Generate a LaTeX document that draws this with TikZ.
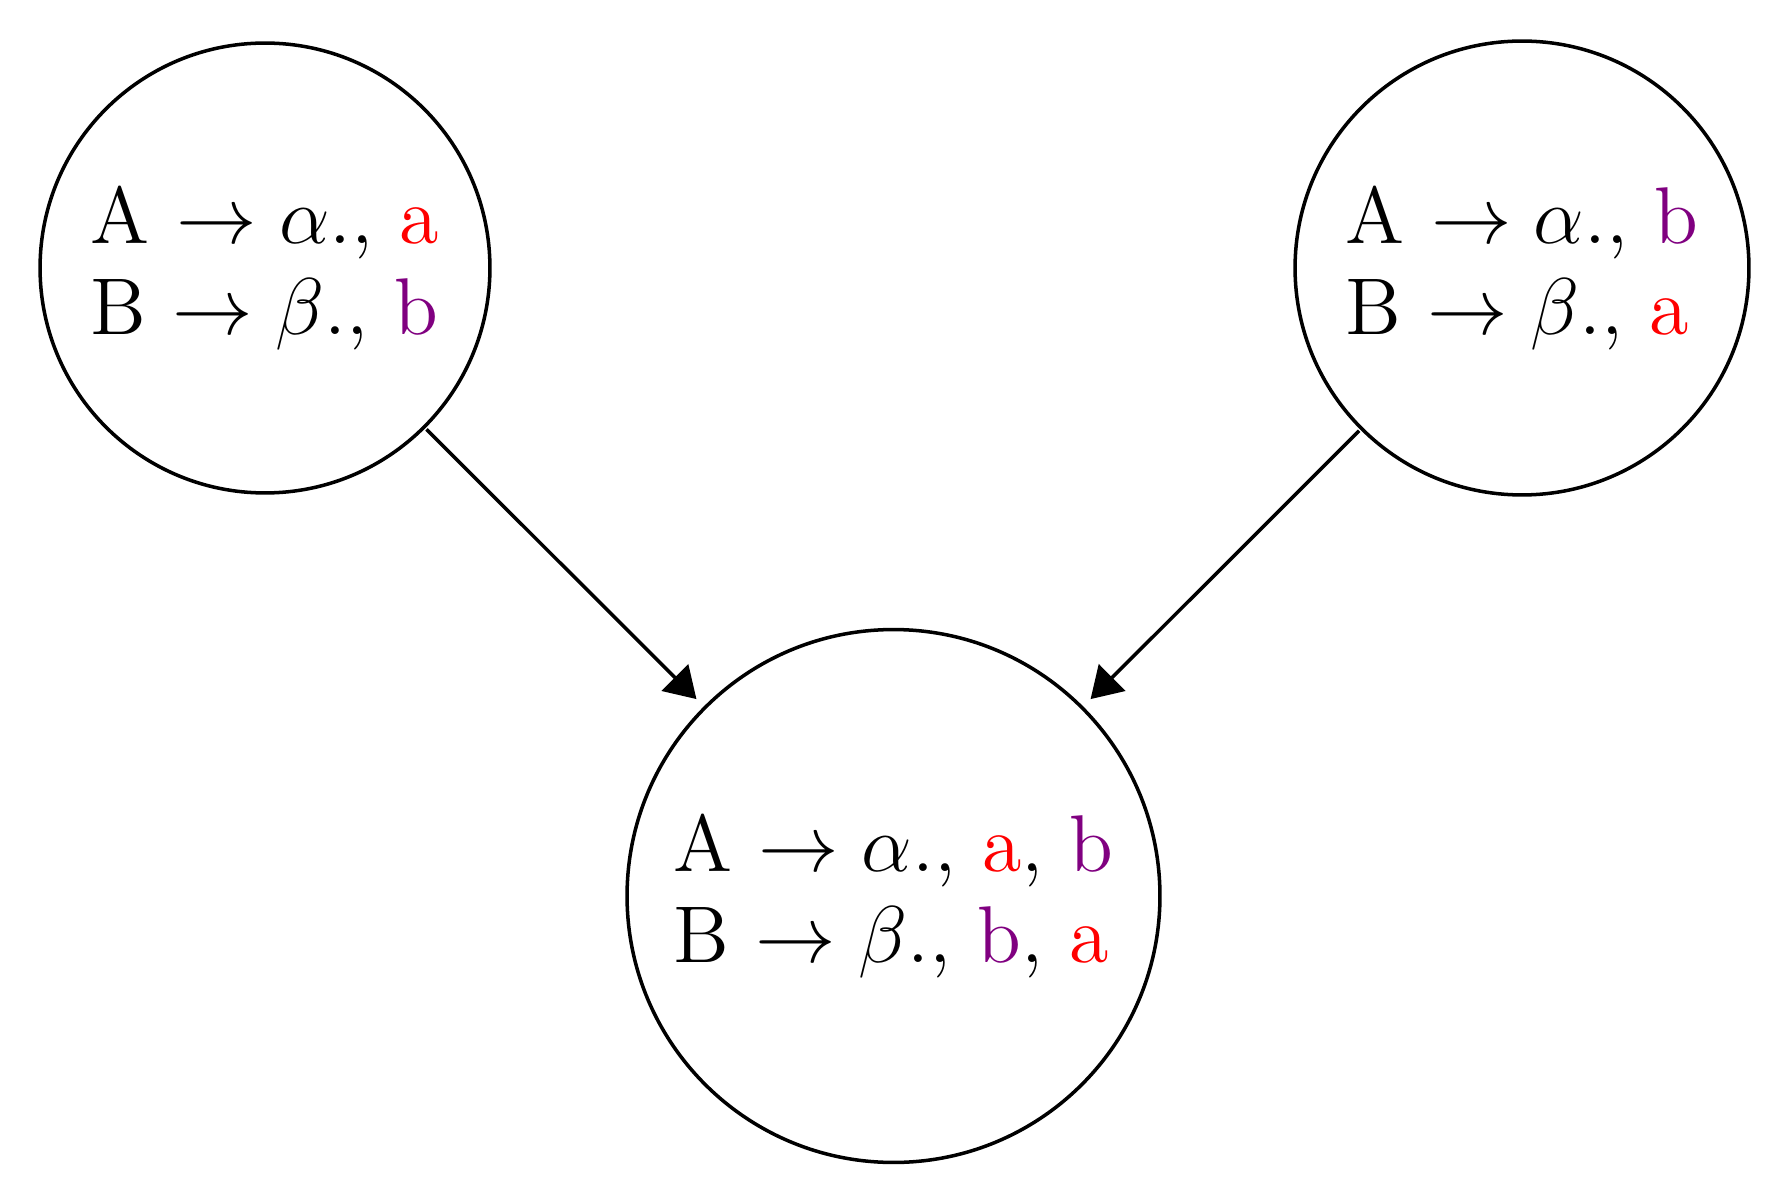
\documentclass[tikz,border=0pt]{standalone}
\usetikzlibrary{arrows.meta}
\definecolor{itemred}{RGB}{255,0,0}
\definecolor{itempurple}{RGB}{128,0,128}
\begin{document}
\begin{tikzpicture}[x=1cm,y=1cm,
  state/.style={draw, line width=1pt, circle, inner sep=0pt, align=left,
    font=\fontsize{12}{13.66}\selectfont, scale=1.908, transform shape},
  arr/.style={line width=1pt, -{Triangle[length=8.7pt,width=10.6pt]}, shorten >=2.5pt}]
  \useasboundingbox (0,0) rectangle (17.9,12.03);
  \node[state, minimum size=2.358cm]  (l) at (2.65,9.35)
    {A $\rightarrow \alpha$., \textcolor{itemred}{a}\\B $\rightarrow \beta$., \textcolor{itempurple}{b}};
  \node[state, minimum size=2.379cm] (r) at (15.22,9.35)
    {A $\rightarrow \alpha$., \textcolor{itempurple}{b}\\B $\rightarrow \beta$., \textcolor{itemred}{a}};
  \node[state, minimum size=2.793cm] (m) at (8.935,3.07)
    {A $\rightarrow \alpha$., \textcolor{itemred}{a}, \textcolor{itempurple}{b}\\B $\rightarrow \beta$., \textcolor{itempurple}{b}, \textcolor{itemred}{a}};
  \draw[arr] (l) -- (m);
  \draw[arr] (r) -- (m);
\end{tikzpicture}
\end{document}
